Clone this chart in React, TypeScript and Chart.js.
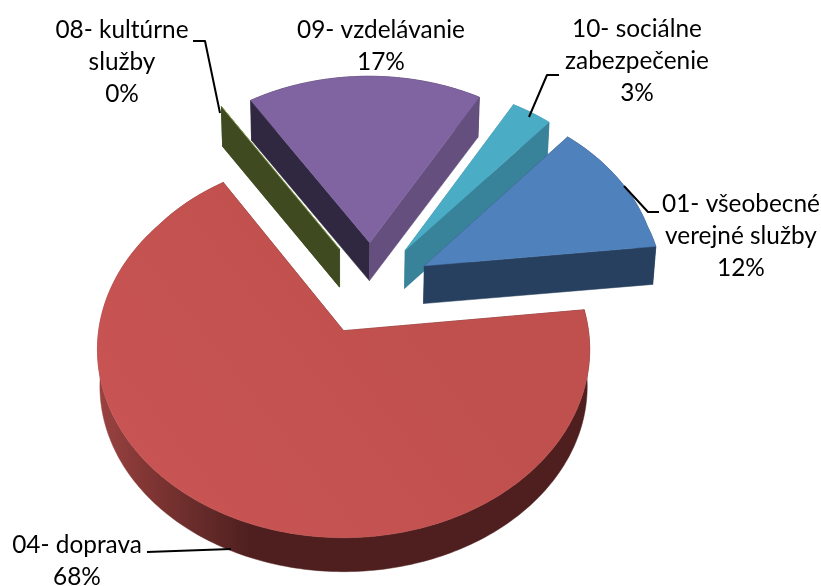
import React, { useEffect, useRef } from "react";
import { Chart, registerables } from "chart.js";

Chart.register(...registerables);

const categoryLines: string[][] = [
  ["01- všeobecné", "verejné služby"],
  ["04- doprava"],
  ["08- kultúrne", "služby"],
  ["09- vzdelávanie"],
  ["10- sociálne", "zabezpečenie"],
];
const shares: number[] = [12, 68, 0, 17, 3];
const topColors: string[] = ["#4f81bd", "#c0504d", "#9bbb59", "#8064a2", "#4bacc6"];
const startWallColors: string[] = ["#254061", "#4f1f1f", "#3f4a21", "#302840", "#38829a"];
const endWallColors: string[] = ["#27405f", "#4f1f1f", "#3f4a21", "#654f7e", "#38829a"];

// Layout of the labels and leader lines
const labelCenters = [
  { x: 741, y: 204 },
  { x: 77, y: 545 },
  { x: 122, y: 30 },
  { x: 381, y: 30 },
  { x: 637, y: 29 },
];
const leaders: number[][][] = [
  [[659, 212], [648, 212], [624, 186]],
  [[147, 552], [231, 549]],
  [[193, 41], [205, 41], [220, 113]],
  [],
  [[559, 75], [547, 75], [529, 117]],
];
const FONT = "24.4px Lato";
const LINE_H = 32;

// View of the tilted pie
const RADIUS = 245;
const EXPLODE = [250, 262, 250, 250, 250]; // Chart.js moves an arc by offset / 4
const ROTATION = 40.3;
const VIEW = { ox: 344, oy: 331.5, sx: 245, sy: 186.5, persp: 0.1, shiftX: 0.115, shiftY: -0.245 };

function project(rx: number, ry: number): [number, number] {
  const X = rx / RADIUS + VIEW.shiftX;
  const Y = ry / RADIUS + VIEW.shiftY;
  const w = Y > -0.6 ? 1 - VIEW.persp * Y : 1.06 + 0.04 * (-Y - 0.6);
  return [VIEW.ox + (VIEW.sx * X) / w, VIEW.oy + (VIEW.sy * Y) / w];
}
function lower(p: [number, number]): [number, number] {
  return [VIEW.ox + (p[0] - VIEW.ox) * 0.99, p[1] + 38 - 0.014 * (p[1] - 250)];
}
function fillPoly(ctx: CanvasRenderingContext2D, pts: [number, number][], fill: string | CanvasGradient) {
  ctx.beginPath();
  pts.forEach((p, i) => (i ? ctx.lineTo(p[0], p[1]) : ctx.moveTo(p[0], p[1])));
  ctx.closePath();
  ctx.fillStyle = fill;
  ctx.strokeStyle = fill;
  ctx.lineWidth = 0.5;
  ctx.fill();
  ctx.stroke();
}

const pie3d = {
  id: "pie3d",
  beforeDatasetDraw(chart: any, args: any) {
    const ctx: CanvasRenderingContext2D = chart.ctx;
    const arcs: any[] = args.meta.data;
    const faces = arcs.map((arc, i) => {
      const mid = (arc.startAngle + arc.endAngle) / 2;
      const off = (arc.options.offset || 0) / 4;
      const ax = Math.cos(mid) * off;
      const ay = Math.sin(mid) * off;
      const apex = project(ax, ay);
      const rim: [number, number][] = [];
      const n = Math.max(2, Math.ceil(((arc.endAngle - arc.startAngle) * 180) / Math.PI));
      for (let k = 0; k <= n; k++) {
        const t = arc.startAngle + ((arc.endAngle - arc.startAngle) * k) / n;
        rim.push(project(ax + Math.cos(t) * arc.outerRadius, ay + Math.sin(t) * arc.outerRadius));
      }
      return { i, apex, rim, order: ay };
    });
    faces.sort((a, b) => a.order - b.order);
    for (const f of faces) {
      const { i, apex, rim } = f;
      const first = rim[0];
      const last = rim[rim.length - 1];
      const g = ctx.createLinearGradient(98, 0, 250, 0);
      g.addColorStop(0, "#9a4341");
      g.addColorStop(0.35, "#7f3533");
      g.addColorStop(0.7, "#642a29");
      g.addColorStop(1, startWallColors[i]);
      const wall = [...rim, ...rim.map(lower).reverse()];
      fillPoly(ctx, wall, i === 1 ? g : startWallColors[i]);
      fillPoly(ctx, [apex, first, lower(first), lower(apex)], startWallColors[i]);
      fillPoly(ctx, [apex, last, lower(last), lower(apex)], endWallColors[i]);
      if (shares[i] > 0) {
        const top = ctx.createLinearGradient(120, 520, 400, 300);
        top.addColorStop(0, i === 1 ? "#c95554" : topColors[i]);
        top.addColorStop(1, topColors[i]);
        fillPoly(ctx, [apex, ...rim], top);
      } else {
        ctx.beginPath();
        ctx.moveTo(apex[0], apex[1]);
        ctx.lineTo(last[0], last[1]);
        ctx.strokeStyle = topColors[i];
        ctx.lineWidth = 0.7;
        ctx.stroke();
      }
    }
    return false;
  },
  afterDatasetsDraw(chart: any) {
    const ctx: CanvasRenderingContext2D = chart.ctx;
    ctx.save();
    ctx.strokeStyle = "#000";
    ctx.lineWidth = 2;
    ctx.lineJoin = "round";
    leaders.forEach((line) => {
      if (!line.length) return;
      ctx.beginPath();
      line.forEach((p, i) => (i ? ctx.lineTo(p[0], p[1]) : ctx.moveTo(p[0], p[1])));
      ctx.stroke();
    });
    ctx.fillStyle = "#000";
    ctx.font = FONT;
    ctx.textAlign = "center";
    ctx.textBaseline = "middle";
    categoryLines.forEach((lines, i) => {
      const all = [...lines, `${shares[i]}%`];
      all.forEach((t, k) => ctx.fillText(t, labelCenters[i].x, labelCenters[i].y + k * LINE_H));
    });
    ctx.restore();
  },
};

export default function App() {
  const ref = useRef<HTMLCanvasElement>(null);
  useEffect(() => {
    document.body.style.margin = "0";
    document.body.style.background = "#fff";
    const chart = new Chart(ref.current!, {
      type: "pie",
      data: {
        labels: categoryLines.map((l) => l.join(" ")),
        datasets: [
          {
            data: shares,
            backgroundColor: topColors,
            borderWidth: 0,
            offset: EXPLODE,
          },
        ],
      },
      options: {
        responsive: false,
        animation: false,
        radius: RADIUS,
        rotation: ROTATION,
        plugins: { legend: { display: false }, tooltip: { enabled: false } },
      },
      plugins: [pie3d],
    } as any);
    return () => chart.destroy();
  }, []);
  return <canvas ref={ref} width={821} height={586} style={{ display: "block" }} />;
}
